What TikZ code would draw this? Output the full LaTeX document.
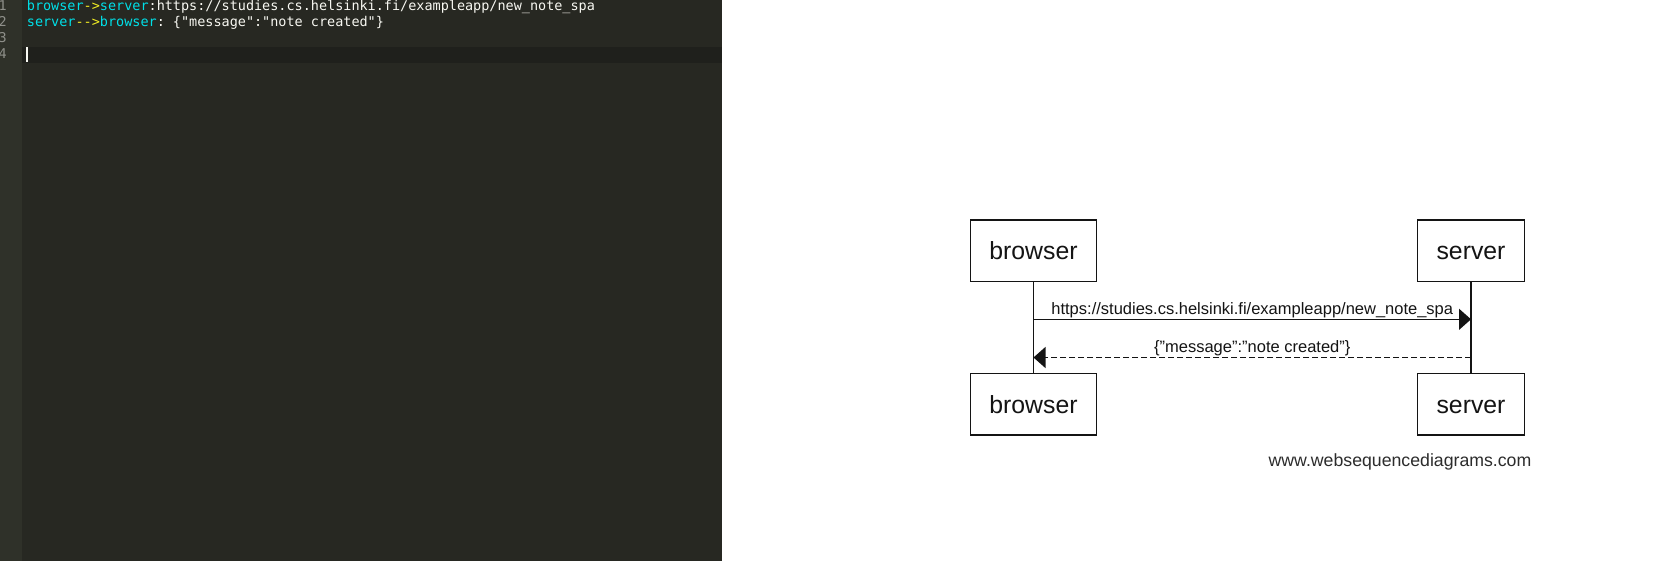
\documentclass[tikz,border=0pt]{standalone}
\usepackage{fontspec}
\setmainfont{Liberation Sans}[Ligatures=NoCommon]
\setmonofont{DejaVu Sans Mono}
\usetikzlibrary{arrows.meta}

% editor palette
\definecolor{editorbg}{HTML}{272822}
\definecolor{gutterbg}{HTML}{2F3129}
\definecolor{curline}{HTML}{1F201C}
\definecolor{lineno}{HTML}{8F908A}
\definecolor{kw}{HTML}{00E0E8}
\definecolor{op}{HTML}{F2EE22}
\definecolor{plain}{HTML}{F8F8F2}
% diagram palette
\definecolor{ink}{HTML}{141414}

\begin{document}
\begin{tikzpicture}[x=1pt,y=-1pt,
  actorbox/.style={draw=ink, line width=1.2pt, fill=white, inner xsep=19pt,
    inner ysep=0pt, minimum height=61.5pt, text=ink,
    text height=18.6pt, text depth=0pt,
    font=\fontsize{24.8}{30}\selectfont},
  lifeline/.style={draw=ink, line width=1.2pt},
  msg/.style={draw=ink, line width=1.2pt, -{Triangle[length=12pt,width=21pt]}},
  reply/.style={msg, dash pattern=on 6pt off 3pt},
  msglabel/.style={font=\fontsize{16.5}{20}\selectfont, text=ink, anchor=base, inner sep=0pt},
  codeline/.style={font=\ttfamily\fontsize{13.48}{16}\selectfont, anchor=base west, inner sep=0pt},
  linenum/.style={font=\ttfamily\fontsize{13.48}{16}\selectfont, text=lineno, anchor=base east, inner sep=0pt},
]
\useasboundingbox (0,0) rectangle (1665,561);
\fill[white] (0,0) rectangle (1665,561);

% ---- editor pane ----
\fill[editorbg] (0,0) rectangle (722,561);
\fill[gutterbg] (0,0) rectangle (22,561);
\fill[curline] (22,47) rectangle (722,63);
\fill[plain] (26,47.5) rectangle (28,62);

\node[linenum] (n1) at (7,11) {1};
\node[linenum] (n2) at (7,27) {2};
\node[linenum] (n3) at (7,43) {3};
\node[linenum] (n4) at (7,59) {4};

\node[codeline] (c1) at (26.7,11)
  {\textcolor{kw}{browser}\textcolor{op}{->}\textcolor{kw}{server}\textcolor{plain}{:https://studies.cs.helsinki.fi/exampleapp/new\_note\_spa}};
\node[codeline] (c2) at (26.7,27)
  {\textcolor{kw}{server}\textcolor{op}{-->}\textcolor{kw}{browser}\textcolor{plain}{: \{"message":"note created"\}}};

% ---- sequence diagram ----
\node[actorbox] (bt) at (1033.5,250.7) {browser};
\node[actorbox] (st) at (1471,250.7) {server};
\node[actorbox] (bb) at (1033.5,404.3) {browser};
\node[actorbox] (sb) at (1471,404.3) {server};

\draw[lifeline] (bt.south) -- (bb.north);
\draw[lifeline] (st.south) -- (sb.north);

\coordinate (y1) at (0,319.3);
\coordinate (y2) at (0,357.5);
\draw[msg] (bt.south |- y1) -- (st.south |- y1);
\draw[reply] (st.south |- y2) -- (bt.south |- y2);

\node[msglabel] (l1) at (1252.25,314.3) {https://studies.cs.helsinki.fi/exampleapp/new\_note\_spa};
\node[msglabel] (l2) at (1252.25,352.5) {\{"message":"note created"\}};

\node[font=\fontsize{17.7}{21}\selectfont, text=ink!90, anchor=base, inner sep=0pt] (wsd)
  at (1400,466.5) {www.websequencediagrams.com};
\end{tikzpicture}
\end{document}
